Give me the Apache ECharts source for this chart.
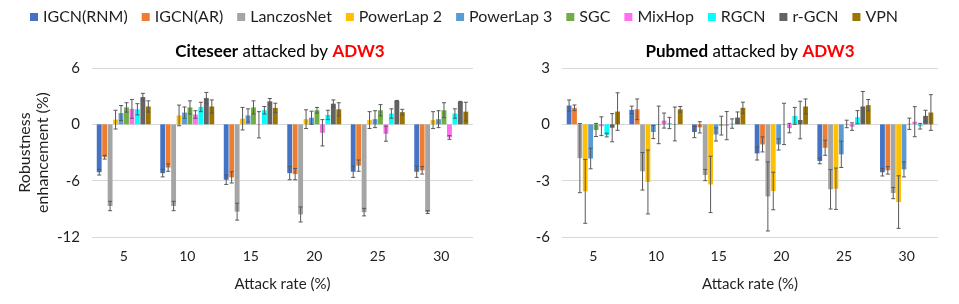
<!DOCTYPE html>
<html><head><meta charset="utf-8">
<script src="https://cdn.jsdelivr.net/npm/echarts@6/dist/echarts.min.js"></script>
<style>html,body{margin:0;padding:0;background:#fff}#c{width:959px;height:304px}</style>
</head><body><div id="c"></div>
<script>
const categories = ['5','10','15','20','25','30'];
const methods = ['IGCN(RNM)','IGCN(AR)','LanczosNet','PowerLap 2','PowerLap 3','SGC','MixHop','RGCN','r-GCN','VPN'];
const colors = ['#4472C4','#ED7D31','#A5A5A5','#FFC000','#5B9BD5','#70AD47','#FF6FF0','#00FFFF','#636363','#9C7400'];

// Citeseer values and errors
const citeRNM = [-5.1,-5.2,-5.9,-5.2,-5.05,-5.05];
const citeAR = [-3.5,-4.6,-5.65,-5.3,-4.4,-4.9];
const citeLanczos = [-8.7,-8.7,-9.3,-9.6,-9.35,-9.35];
const citePL2 = [0.5,0.95,0.6,0.55,0.45,0.45];
const citePL3 = [1.2,1.25,0.95,0.7,0.55,0.55];
const citeSGC = [1.8,1.8,1.8,1.5,1.5,1.5];
const citeMixHop = [1.65,1.05,-0.05,-0.9,-1.0,-1.4];
const citeRGCN = [1.6,1.85,1.5,1.0,1.15,1.15];
const citeRGCN2 = [2.9,2.8,2.45,2.2,2.5,2.4];
const citeVPN = [1.9,1.9,1.75,1.6,1.3,1.35];
const citeErrRNM = [0.3,0.4,0.5,0.7,0.6,0.6];
const citeErrAR = [0.2,0.4,0.6,0.6,0.6,0.4];
const citeErrLanczos = [0.5,0.5,0.9,0.8,0.4,0.15];
const citeErrPL2 = [1.0,1.1,1.2,1.0,0.9,0.9];
const citeErrPL3 = [0.8,0.6,0.7,0.7,0.9,0.9];
const citeErrSGC = [0.5,0.7,0.7,0.3,0.6,0.8];
const citeErrMixHop = [1.0,0.4,1.4,1.4,0.8,0.2];
const citeErrRGCN = [0.6,0.5,0.4,0.5,0.5,0.5];
const citeErrRGCN2 = [0.4,0.6,0.3,0.4,0.05,0.05];
const citeErrVPN = [0.6,0.7,0.5,0.7,0.3,1.0];

// Pubmed values and errors
const pubRNM = [1.0,0.77,-0.41,-1.55,-1.95,-2.55];
const pubAR = [0.88,0.8,-0.16,-1.07,-1.25,-2.45];
const pubLanczos = [-1.8,-2.5,-2.7,-3.84,-3.46,-3.66];
const pubPL2 = [-3.57,-3.07,-3.2,-3.55,-3.43,-4.14];
const pubPL3 = [-1.82,-0.41,-0.54,-1.07,-1.6,-2.4];
const pubSGC = [-0.3,-0.03,-0.07,0.02,0.02,0.03];
const pubMixHop = [-0.1,0.2,-0.07,-0.2,-0.12,0.14];
const pubRGCN = [-0.57,0.07,0.04,0.45,0.38,-0.1];
const pubRGCN2 = [-0.18,0.02,0.36,0.23,0.95,0.45];
const pubVPN = [0.68,0.8,0.88,0.95,1.02,0.63];
const pubErrRNM = [0.3,0.2,0.3,0.35,0.15,0.2];
const pubErrAR = [0.15,0.55,0.3,0.4,0.4,0.2];
const pubErrLanczos = [1.84,1.0,0.3,1.84,1.05,0.3];
const pubErrPL2 = [1.7,1.7,1.5,1.0,1.1,1.4];
const pubErrPL3 = [0.55,0.35,0.35,0.3,0.7,0.4];
const pubErrSGC = [0.35,1.0,0.5,1.1,0.2,0.3];
const pubErrMixHop = [0.5,0.4,0.75,0.25,0.2,0.8];
const pubErrRGCN = [0.1,0.3,0.25,0.45,0.35,0.15];
const pubErrRGCN2 = [0.75,0.9,0.3,1.0,0.8,0.3];
const pubErrVPN = [1.0,0.15,0.3,0.4,0.3,0.95];

const citeVals = [citeRNM,citeAR,citeLanczos,citePL2,citePL3,citeSGC,citeMixHop,citeRGCN,citeRGCN2,citeVPN];
const citeErrs = [citeErrRNM,citeErrAR,citeErrLanczos,citeErrPL2,citeErrPL3,citeErrSGC,citeErrMixHop,citeErrRGCN,citeErrRGCN2,citeErrVPN];
const pubVals = [pubRNM,pubAR,pubLanczos,pubPL2,pubPL3,pubSGC,pubMixHop,pubRGCN,pubRGCN2,pubVPN];
const pubErrs = [pubErrRNM,pubErrAR,pubErrLanczos,pubErrPL2,pubErrPL3,pubErrSGC,pubErrMixHop,pubErrRGCN,pubErrRGCN2,pubErrVPN];

const FONT = 'Lato';
const TXT = '#1f1f1f';
const CAT_GAP = 0.15, BAR_GAP = 0.12, N = methods.length;

function errRender(params, api) {
  const cat = api.value(0), v = api.value(1), e = api.value(2), si = api.value(3);
  const c = api.coord([cat, 0])[0];
  const band = api.size([1, 0])[0];
  const group = band * (1 - CAT_GAP);
  const bw = group / (N + (N - 1) * BAR_GAP);
  const x = c - group / 2 + si * bw * (1 + BAR_GAP) + bw / 2;
  const y1 = api.coord([cat, v - e])[1], y2 = api.coord([cat, v + e])[1];
  const st = {stroke: '#595959', lineWidth: 1};
  const cap = 2;
  return {type: 'group', children: [
    {type: 'line', shape: {x1: x, y1: y1, x2: x, y2: y2}, style: st},
    {type: 'line', shape: {x1: x - cap, y1: y1, x2: x + cap, y2: y1}, style: st},
    {type: 'line', shape: {x1: x - cap, y1: y2, x2: x + cap, y2: y2}, style: st}
  ]};
}

function buildSeries(vals, errs, gi) {
  const out = [];
  methods.forEach((m, i) => {
    out.push({name: m, type: 'bar', xAxisIndex: gi, yAxisIndex: gi, data: vals[i],
      barGap: (BAR_GAP * 100) + '%', barCategoryGap: (CAT_GAP * 100) + '%',
      itemStyle: {color: colors[i]}, emphasis: {disabled: true}, animation: false});
  });
  const ed = [];
  methods.forEach((m, i) => {
    vals[i].forEach((v, k) => ed.push([k, v, errs[i][k], i]));
  });
  out.push({type: 'custom', xAxisIndex: gi, yAxisIndex: gi, renderItem: errRender, data: ed,
    encode: {x: 0, y: 1}, z: 10, silent: true, animation: false});
  return out;
}

const chart = echarts.init(document.getElementById('c'));
const axisLabelStyle = {fontFamily: FONT, fontSize: 15, color: TXT};
const richTitle = {b: {fontWeight: 'bold', fontSize: 17, fontFamily: FONT, fill: '#000'}, r: {fontWeight: 'bold', fontSize: 17, fontFamily: FONT, fill: '#FF0000'}};
chart.setOption({
  animation: false,
  textStyle: {fontFamily: FONT},
  legend: {data: methods, top: 4, left: 30, width: 929, padding: [5, 0, 5, 0], itemWidth: 8, itemHeight: 8, itemGap: 14,
    icon: 'rect', textStyle: {fontFamily: FONT, fontSize: 16, color: TXT}},
  grid: [
    {left: 92, right: 486, top: 68, bottom: 67},
    {left: 562, right: 21, top: 68, bottom: 67}
  ],
  xAxis: [0, 1].map(g => ({type: 'category', gridIndex: g, data: categories,
    axisLine: {show: false}, axisTick: {show: false},
    axisLabel: Object.assign({margin: 12}, axisLabelStyle, {fontSize: 14}),
    name: 'Attack rate (%)', nameLocation: 'middle', nameGap: 40,
    nameTextStyle: {fontFamily: FONT, fontSize: 15, color: TXT}})),
  yAxis: [
    {type: 'value', gridIndex: 0, min: -12, max: 6, interval: 6,
      axisLabel: Object.assign({margin: 12}, axisLabelStyle),
      splitLine: {lineStyle: {color: '#d9d9d9'}},
      name: 'Robustness\nenhancement (%)', nameLocation: 'middle', nameGap: 40,
      nameTextStyle: {fontFamily: FONT, fontSize: 16, color: TXT, lineHeight: 18}},
    {type: 'value', gridIndex: 1, min: -6, max: 3, interval: 3,
      axisLabel: Object.assign({margin: 12}, axisLabelStyle),
      splitLine: {lineStyle: {color: '#d9d9d9'}}}
  ],
  graphic: [
    {type: 'text', x: 280, y: 52, style: {text: '{b|Citeseer} attacked by {r|ADW3}', align: 'center', verticalAlign: 'middle',
      font: '17px Lato', fill: '#000', rich: richTitle}},
    {type: 'text', x: 750, y: 52, style: {text: '{b|Pubmed} attacked by {r|ADW3}', align: 'center', verticalAlign: 'middle',
      font: '17px Lato', fill: '#000', rich: richTitle}}
  ],
  series: [].concat(buildSeries(citeVals, citeErrs, 0), buildSeries(pubVals, pubErrs, 1))
});
</script></body></html>
